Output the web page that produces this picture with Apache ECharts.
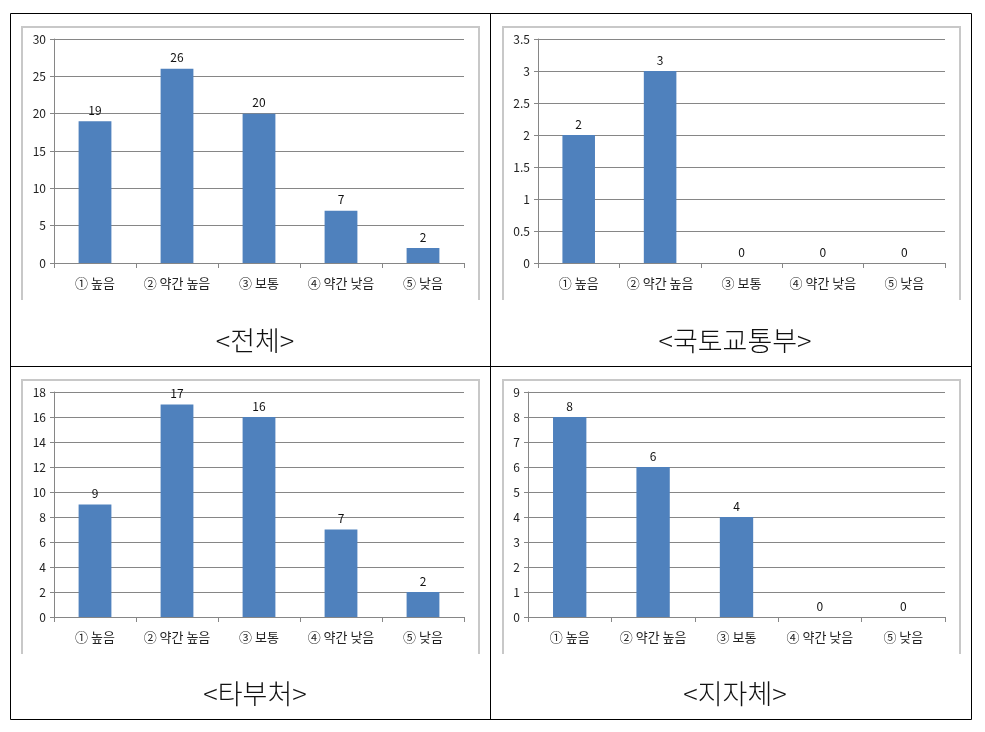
<!DOCTYPE html>
<html><head><meta charset="utf-8">
<script src="https://cdn.jsdelivr.net/npm/echarts@6/dist/echarts.min.js"></script>
<style>html,body{margin:0;padding:0;background:#fff}#c{width:985px;height:732px}</style>
</head><body><div id="c"></div>
<script>
const categories = ['① 높음', '② 약간 높음', '③ 보통', '④ 약간 낮음', '⑤ 낮음'];
const titles = ['<전체>', '<국토교통부>', '<타부처>', '<지자체>'];
const totalValues = [19, 26, 20, 7, 2];
const molitValues = [2, 3, 0, 0, 0];
const otherMinistryValues = [9, 17, 16, 7, 2];
const localGovValues = [8, 6, 4, 0, 0];
const yMax = [30, 3.5, 18, 9];
const yInterval = [5, 0.5, 2, 1];

const seriesData = [totalValues, molitValues, otherMinistryValues, localGovValues];
const grids = [
  {left: 54, top: 39, width: 410, height: 224},
  {left: 538, top: 39, width: 407, height: 224},
  {left: 54, top: 392, width: 410, height: 225},
  {left: 528, top: 392, width: 417, height: 225}
];
const titlePos = [[250, 322], [730, 322], [250, 675], [730, 675]];
const font = '"Noto Sans CJK KR", "DejaVu Sans", sans-serif';
const gridColor = '#868686';

const chart = echarts.init(document.getElementById('c'), null, {renderer: 'canvas'});
const option = {
  backgroundColor: '#fff',
  animation: false,
  title: titles.map((t, i) => ({
    text: t, left: titlePos[i][0], top: titlePos[i][1], textAlign: 'center',
    textStyle: {fontFamily: font, fontSize: 27, fontWeight: 300, color: '#111'}
  })),
  grid: grids.map(g => Object.assign({containLabel: false}, g)),
  xAxis: grids.map((g, i) => ({
    type: 'category', gridIndex: i, data: categories,
    axisLine: {lineStyle: {color: gridColor, width: 1}},
    axisTick: {show: true, interval: 0, length: 5, lineStyle: {color: gridColor}},
    axisLabel: {interval: 0, fontFamily: font, fontSize: 13, color: '#222', margin: 14}
  })),
  yAxis: grids.map((g, i) => ({
    type: 'value', gridIndex: i, min: 0, max: yMax[i], interval: yInterval[i],
    axisLine: {show: true, lineStyle: {color: gridColor, width: 1}},
    axisTick: {show: true, length: 4, lineStyle: {color: gridColor}},
    splitLine: {show: true, lineStyle: {color: gridColor, width: 1}},
    axisLabel: {fontFamily: font, fontSize: 12, color: '#222', margin: 8}
  })),
  series: seriesData.map((d, i) => ({
    type: 'bar', xAxisIndex: i, yAxisIndex: i, data: d, barWidth: '40%',
    itemStyle: {color: '#4F81BD'},
    label: {show: true, position: 'top', distance: 5, fontFamily: font, fontSize: 12, color: '#111'}
  })),
  graphic: [
    {type: 'polyline', shape: {points: [[22, 300], [22, 27], [479, 27], [479, 300]]}, style: {stroke: '#c8c8c8', lineWidth: 2, fill: null}, silent: true},
    {type: 'polyline', shape: {points: [[503, 300], [503, 27], [960, 27], [960, 300]]}, style: {stroke: '#c8c8c8', lineWidth: 2, fill: null}, silent: true},
    {type: 'polyline', shape: {points: [[22, 654], [22, 380], [479, 380], [479, 654]]}, style: {stroke: '#c8c8c8', lineWidth: 2, fill: null}, silent: true},
    {type: 'polyline', shape: {points: [[503, 654], [503, 380], [960, 380], [960, 654]]}, style: {stroke: '#c8c8c8', lineWidth: 2, fill: null}, silent: true},
    {type: 'rect', shape: {x: 10.5, y: 13.5, width: 961, height: 706}, style: {stroke: '#000', lineWidth: 1, fill: null}, silent: true},
    {type: 'line', shape: {x1: 490.5, y1: 13, x2: 490.5, y2: 720}, style: {stroke: '#000', lineWidth: 1}, silent: true},
    {type: 'line', shape: {x1: 10, y1: 366.5, x2: 972, y2: 366.5}, style: {stroke: '#000', lineWidth: 1}, silent: true}
  ]
};
chart.setOption(option);
</script>
</body></html>
